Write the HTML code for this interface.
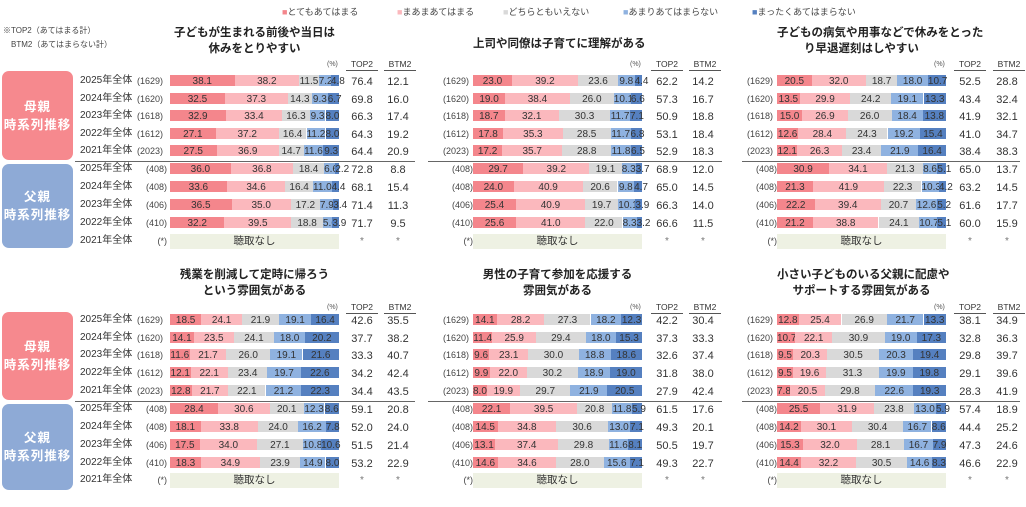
<!DOCTYPE html>
<html><head><meta charset="utf-8">
<style>
body{margin:0;width:1026px;height:507px;background:#fff;position:relative;overflow:hidden;font-family:"Liberation Sans","Noto Sans CJK JP",sans-serif;color:#333}
div,span{position:absolute;white-space:nowrap}
.t{font-size:11.5px;font-weight:bold;color:#222;text-align:center;line-height:16px}
.seg{height:11px;font-size:10px;line-height:13px;text-align:center;overflow:visible}
.lab{font-size:10px;line-height:12px}
.num{font-size:11px;line-height:12px;text-align:center;width:36px}
.hd{font-size:8.5px;text-align:center;width:32px;border-bottom:1px solid #555;line-height:11px}
.badge{left:2px;width:71px;border-radius:7px;color:#fff;font-weight:bold;font-size:12.5px;letter-spacing:1px;text-align:center;line-height:18px}
.lg{font-size:9px;color:#444;top:5px}
</style></head><body>
<div class="lg" style="left:282px"><span style="position:static;color:#f4868c">■</span>とてもあてはまる</div>
<div class="lg" style="left:397px"><span style="position:static;color:#fbb8bd">■</span>まあまあてはまる</div>
<div class="lg" style="left:503px"><span style="position:static;color:#d9d9d9">■</span>どちらともいえない</div>
<div class="lg" style="left:623px"><span style="position:static;color:#8fb2e0">■</span>あまりあてはまらない</div>
<div class="lg" style="left:752px"><span style="position:static;color:#5580c0">■</span>まったくあてはまらない</div>
<div style="left:3px;top:25px;font-size:8px;color:#444">※TOP2（あてはまる計）</div>
<div style="left:11px;top:39px;font-size:8px;color:#444">BTM2（あてはまらない計）</div>
<script>
const C=['#f4868c','#fbb8bd','#d9d9d9','#8fb2e0','#5580c0'];
const yrs=['2025年全体','2024年全体','2023年全体','2022年全体','2021年全体'];
const P=[
{bx:170,tx:362,bt:398,sx:137,dl:75,dr:415,top:0,title:['子どもが生まれる前後や当日は','休みをとりやすい'],ylab:true,
 d:[[38.1,38.2,11.5,7.2,4.8,76.4,12.1],[32.5,37.3,14.3,9.3,6.7,69.8,16.0],[32.9,33.4,16.3,9.3,8.0,66.3,17.4],[27.1,37.2,16.4,11.2,8.0,64.3,19.2],[27.5,36.9,14.7,11.6,9.3,64.4,20.9],[36.0,36.8,18.4,6.6,2.2,72.8,8.8],[33.6,34.6,16.4,11.0,4.4,68.1,15.4],[36.5,35.0,17.2,7.9,3.4,71.4,11.3],[32.2,39.5,18.8,5.6,3.9,71.7,9.5]]},
{bx:473,tx:667,bt:703,sx:443,dl:428,dr:722,top:0,title:['上司や同僚は子育てに理解がある'],
 d:[[23.0,39.2,23.6,9.8,4.4,62.2,14.2],[19.0,38.4,26.0,10.1,6.6,57.3,16.7],[18.7,32.1,30.3,11.7,7.1,50.9,18.8],[17.8,35.3,28.5,11.7,6.8,53.1,18.4],[17.2,35.7,28.8,11.8,6.5,52.9,18.3],[29.7,39.2,19.1,8.3,3.7,68.9,12.0],[24.0,40.9,20.6,9.8,4.7,65.0,14.5],[25.4,40.9,19.7,10.1,3.9,66.3,14.0],[25.6,41.0,22.0,8.3,3.2,66.6,11.5]]},
{bx:777,tx:970,bt:1007,sx:747,dl:742,dr:1020,top:0,title:['子どもの病気や用事などで休みをとった','り早退遅刻はしやすい'],
 d:[[20.5,32.0,18.7,18.0,10.7,52.5,28.8],[13.5,29.9,24.2,19.1,13.3,43.4,32.4],[15.0,26.9,26.0,18.4,13.8,41.9,32.1],[12.6,28.4,24.3,19.2,15.4,41.0,34.7],[12.1,26.3,23.4,21.9,16.4,38.4,38.3],[30.9,34.1,21.3,8.6,5.1,65.0,13.7],[21.3,41.9,22.3,10.3,4.2,63.2,14.5],[22.2,39.4,20.7,12.6,5.2,61.6,17.7],[21.2,38.8,24.1,10.7,5.1,60.0,15.9]]},
{bx:170,tx:362,bt:398,sx:137,dl:75,dr:415,top:1,title:['残業を削減して定時に帰ろう','という雰囲気がある'],ylab:true,
 d:[[18.5,24.1,21.9,19.1,16.4,42.6,35.5],[14.1,23.5,24.1,18.0,20.2,37.7,38.2],[11.6,21.7,26.0,19.1,21.6,33.3,40.7],[12.1,22.1,23.4,19.7,22.6,34.2,42.4],[12.8,21.7,22.1,21.2,22.3,34.4,43.5],[28.4,30.6,20.1,12.3,8.6,59.1,20.8],[18.1,33.8,24.0,16.2,7.8,52.0,24.0],[17.5,34.0,27.1,10.8,10.6,51.5,21.4],[18.3,34.9,23.9,14.9,8.0,53.2,22.9]]},
{bx:473,tx:667,bt:703,sx:443,dl:428,dr:722,top:1,title:['男性の子育て参加を応援する','雰囲気がある'],
 d:[[14.1,28.2,27.3,18.2,12.3,42.2,30.4],[11.4,25.9,29.4,18.0,15.3,37.3,33.3],[9.6,23.1,30.0,18.8,18.6,32.6,37.4],[9.9,22.0,30.2,18.9,19.0,31.8,38.0],[8.0,19.9,29.7,21.9,20.5,27.9,42.4],[22.1,39.5,20.8,11.8,5.9,61.5,17.6],[14.5,34.8,30.6,13.0,7.1,49.3,20.1],[13.1,37.4,29.8,11.6,8.1,50.5,19.7],[14.6,34.6,28.0,15.6,7.1,49.3,22.7]]},
{bx:777,tx:970,bt:1007,sx:747,dl:742,dr:1020,top:1,title:['小さい子どものいる父親に配慮や','サポートする雰囲気がある'],
 d:[[12.8,25.4,26.9,21.7,13.3,38.1,34.9],[10.7,22.1,30.9,19.0,17.3,32.8,36.3],[9.5,20.3,30.5,20.3,19.4,29.8,39.7],[9.5,19.6,31.3,19.9,19.8,29.1,39.6],[7.8,20.5,29.8,22.6,19.3,28.3,41.9],[25.5,31.9,23.8,13.0,5.9,57.4,18.9],[14.2,30.1,30.4,16.7,8.6,44.4,25.2],[15.3,32.0,28.1,16.7,7.9,47.3,24.6],[14.4,32.2,30.5,14.6,8.3,46.6,22.9]]}
];
const ns=['1629','1620','1618','1612','2023','408','408','406','410','*'];
const rowsTop=[81,98.5,116,133.5,151,169,187,205,223,241];
const rowsBot=[320,337.7,355.4,373.1,390.8,409,427,445,463,480];
const W=169;let h='';
const add=s=>h+=s;
P.forEach(p=>{
 const R=p.top?rowsBot:rowsTop;
 const ty=p.top?267:p.title.length==1?36:25;
 p.title.forEach((t,i)=>add(`<div class="t" style="left:${p.bx}px;width:${W}px;top:${ty+i*16}px">${t}</div>`));
 const hy=p.top?302:59;
 add(`<div style="left:${p.bx+W-12}px;top:${hy+2}px;font-size:7px;color:#555">(%)</div>`);
 add(`<div class="hd" style="left:${p.tx-16}px;top:${hy}px">TOP2</div><div class="hd" style="left:${p.bt-14}px;top:${hy}px">BTM2</div>`);
 const dy=p.top?401:161;
 add(`<div style="left:${p.dl}px;width:${p.dr-p.dl}px;top:${dy}px;height:1px;background:#666"></div>`);
 R.forEach((y,i)=>{
  if(p.ylab)add(`<div class="lab" style="left:80px;top:${y-6}px">${yrs[i%5]}</div>`);
  add(`<div class="lab" style="left:${p.sx}px;top:${y-6}px;width:30px;text-align:${i<5?'left':'right'};font-size:9px;color:#444">(${ns[i]})</div>`);
  if(i==9){
   add(`<div style="left:${p.bx}px;top:${y-7}px;width:${W}px;height:15px;background:#eef1e3;font-size:10.5px;text-align:center;line-height:15px">聴取なし</div>`);
   add(`<div class="num" style="left:${p.tx-18}px;top:${y-5}px;font-size:10px;color:#777">*</div><div class="num" style="left:${p.bt-18}px;top:${y-5}px;font-size:10px;color:#777">*</div>`);
   return;}
  const d=p.d[i];let x=p.bx;const tot=d[0]+d[1]+d[2]+d[3]+d[4];
  for(let k=0;k<5;k++){const w=d[k]/tot*W;
   add(`<div class="seg" style="left:${x.toFixed(1)}px;top:${y-6}px;width:${w.toFixed(1)}px;background:${C[k]}">${d[k].toFixed(1)}</div>`);x+=w;}
  add(`<div class="num" style="left:${p.tx-18}px;top:${y-5}px">${d[5].toFixed(1)}</div><div class="num" style="left:${p.bt-18}px;top:${y-5}px">${d[6].toFixed(1)}</div>`);
 });
 if(p.ylab){const b=p.top?[312,400,404,490]:[71,160,164,248];
  add(`<div class="badge" style="top:${b[0]}px;height:${b[1]-b[0]}px;background:#f6898e;padding-top:${(b[1]-b[0])/2-18}px;box-sizing:border-box">母親<br>時系列推移</div>`);
  add(`<div class="badge" style="top:${b[2]}px;height:${b[3]-b[2]}px;background:#8eaad6;padding-top:${(b[3]-b[2])/2-18}px;box-sizing:border-box">父親<br>時系列推移</div>`);}
});
document.body.insertAdjacentHTML('beforeend',h);
</script>
</body></html>
